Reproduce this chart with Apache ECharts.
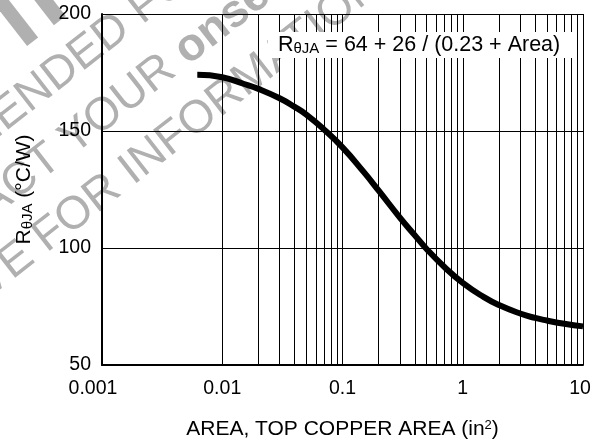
<!DOCTYPE html>
<html><head><meta charset="utf-8">
<script src="https://cdn.jsdelivr.net/npm/echarts@6/dist/echarts.min.js"></script>
<style>html,body{margin:0;padding:0;background:#fff}#c{width:600px;height:442px}</style>
</head><body><div id="c"></div>
<script>
// Values
const areaValues = [0.0062, 0.01, 0.015, 0.02, 0.03, 0.04, 0.05, 0.07, 0.1, 0.15, 0.2, 0.3, 0.4, 0.5, 0.7, 1, 1.5, 2, 3, 4, 5, 7, 10];
const rthetaValues = [174, 173, 170.2, 168, 164, 160.3, 157, 150.7, 143, 132.5, 124.5, 113, 105.4, 99.6, 92, 85.1, 79, 75.6, 72, 70.1, 69, 67.6, 66.5];
const xTickLabels = ['0.001', '0.01', '0.1', '1', '10'];
const yTickValues = [50, 100, 150, 200];
const decades = [0.001, 0.01, 0.1, 1];
const minorSteps = [2, 3, 4, 5, 6, 7, 8, 9];

const FONT = 'Liberation Sans, Arial, Helvetica, sans-serif';
const minorGrid = [];
decades.forEach(d => minorSteps.forEach(m => minorGrid.push({ xAxis: +(d * m).toPrecision(3) })));

const chart = echarts.init(document.getElementById('c'), null, { renderer: 'canvas' });
const WM = '#b0b0b0';
const wmText = (x, y, text, align) => ({
  type: 'text', x: x, y: y, z: -10, silent: true,
  style: { text: text, fill: WM, font: '46px ' + FONT, align: align, verticalAlign: 'middle' }
});
const wmRect = (x, y, w, h) => ({
  type: 'rect', z: -10, silent: true, shape: { x: x, y: y, width: w, height: h }, style: { fill: WM }
});

chart.setOption({
  animation: false,
  backgroundColor: '#fff',
  grid: { left: 102, right: 17, top: 14, bottom: 77, containLabel: false, outerBoundsMode: 'none' },
  xAxis: {
    type: 'log', logBase: 10, min: 0.001, max: 10,
    axisLine: { show: true, onZero: false, lineStyle: { color: '#000', width: 2 } },
    axisTick: { show: false },
    splitLine: { show: true, lineStyle: { color: '#000', width: 1 } },
    axisLabel: { color: '#000', fontSize: 19.5, fontFamily: FONT, margin: 14,
      formatter: (v, i) => i === 0 ? '{first|' + xTickLabels[i] + '}'
        : (i === xTickLabels.length - 1 ? '{last|' + xTickLabels[i] + '}' : xTickLabels[i]),
      rich: {
        first: { fontSize: 19.5, fontFamily: FONT, color: '#000', padding: [0, 18, 0, 0] },
        last: { fontSize: 19.5, fontFamily: FONT, color: '#000', padding: [0, 6, 0, 0] }
      } },
    name: 'AREA, TOP COPPER AREA (in{sup|2})',
    nameLocation: 'middle', nameGap: 54,
    nameTextStyle: { color: '#000', fontSize: 21, fontFamily: FONT, lineHeight: 21,
      rich: { sup: { fontSize: 13, lineHeight: 8, verticalAlign: 'top', fontFamily: FONT, color: '#000' } } }
  },
  yAxis: {
    type: 'value', min: 50, max: 200, interval: 50,
    axisLine: { show: true, onZero: false, lineStyle: { color: '#000', width: 2 } },
    axisTick: { show: false },
    splitLine: { show: true, lineStyle: { color: '#000', width: 1 } },
    axisLabel: { color: '#000', fontSize: 19.5, fontFamily: FONT, margin: 11,
      formatter: v => yTickValues.includes(v) ? String(v) : '' },
    name: 'R{sub|θJA} (°C/W)',
    nameLocation: 'middle', nameGap: 67,
    nameTextStyle: { color: '#000', fontSize: 21, fontFamily: FONT, lineHeight: 21,
      rich: { sub: { fontSize: 15, lineHeight: 8, verticalAlign: 'bottom', fontFamily: FONT, color: '#000' } } }
  },
  series: [{
    type: 'line',
    data: areaValues.map((a, i) => [a, rthetaValues[i]]),
    smooth: true,
    showSymbol: false,
    silent: true,
    z: 5,
    lineStyle: { color: '#000', width: 6, cap: 'butt' },
    markLine: {
      silent: true, symbol: ['none', 'none'], animation: false,
      label: { show: false },
      lineStyle: { color: '#000', width: 1, type: 'solid' },
      emphasis: { disabled: true },
      data: minorGrid
    }
  }],
  graphic: [
    {
      type: 'group', x: 0, y: 0, rotation: 38 * Math.PI / 180, z: -10, silent: true,
      children: [
        wmRect(-7, -30, 14, 83),
        wmRect(27, -30, 15, 83),
        wmText(-77, 94.5, 'NOT RECOMM', 'right'),
        wmText(-77, 94.5, 'ENDED FOR NEW DESIGN', 'left'),
        wmText(-50.6, 155, 'PLEASE CONTACT', 'right'),
        {
          type: 'text', x: -38, y: 155, z: -10, silent: true,
          style: { text: 'YOUR {b|onsemi}', fill: WM, font: '46px ' + FONT, align: 'left', verticalAlign: 'middle',
            rich: { b: { fontWeight: 'bold', fontSize: 46, fontFamily: FONT, fill: WM } } }
        },
        wmText(-132, 215.5, 'REPRESENTATIVE', 'right'),
        wmText(-119, 215.5, 'FOR INFORMATION', 'left')
      ]
    },
    {
      type: 'text', x: 268, y: 32, z: 100, silent: true,
      style: {
        text: 'R{sub|θJA} = 64 + 26 / (0.23 + Area)',
        fill: '#000', font: '21.5px ' + FONT, lineHeight: 21,
        align: 'left', verticalAlign: 'top',
        backgroundColor: '#fff', padding: [3, 16, 2, 10],
        rich: { sub: { fontSize: 15, lineHeight: 8, verticalAlign: 'bottom', fontFamily: FONT, fill: '#000' } }
      }
    }
  ]
});
</script>
</body></html>
